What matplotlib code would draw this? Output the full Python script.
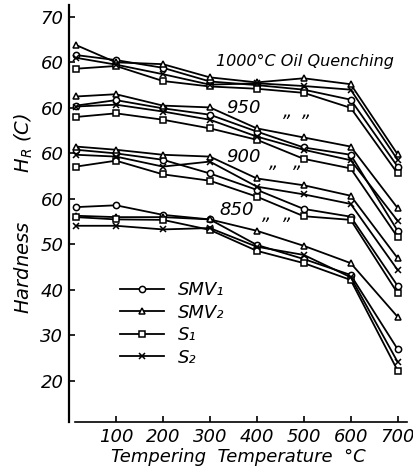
import matplotlib
matplotlib.use("Agg")
import matplotlib.pyplot as plt
from matplotlib import font_manager

names = {f.name for f in font_manager.fontManager.ttflist}
FAM = 'Liberation Sans Narrow' if 'Liberation Sans Narrow' in names else 'DejaVu Sans'
plt.rcParams['font.family'] = [FAM, 'DejaVu Sans']
plt.rcParams['font.style'] = 'italic'

# ---- data ----
temps = [15, 100, 200, 300, 400, 500, 600, 700]
series = ['SMV₁', 'SMV₂', 'S₁', 'S₂']
quench = ['1000', '950', '900', '850']
offsets = [30, 20, 10, 0]   # vertical shift of each quenching group (HRC)

h1000_smv1 = [61.6, 60.5, 58.8, 55.8, 55.0, 54.0, 51.8, 37.1]
h1000_smv2 = [63.8, 60.0, 59.6, 56.7, 55.6, 56.5, 55.2, 39.8]
h1000_s1   = [58.6, 59.2, 55.9, 54.7, 54.2, 53.3, 50.0, 35.6]
h1000_s2   = [61.0, 59.5, 57.4, 55.1, 55.4, 54.8, 54.0, 38.6]

h950_smv1 = [60.5, 61.7, 59.9, 58.5, 54.8, 51.3, 49.7, 33.0]
h950_smv2 = [62.5, 63.0, 60.5, 60.1, 55.5, 53.5, 51.5, 38.0]
h950_s1   = [58.0, 58.8, 57.4, 55.5, 53.0, 48.8, 46.7, 31.6]
h950_s2   = [60.3, 60.7, 59.2, 57.4, 53.7, 50.8, 48.5, 35.2]

h900_smv1 = [60.8, 60.0, 58.6, 55.6, 52.0, 47.8, 46.1, 30.9]
h900_smv2 = [61.5, 60.8, 59.7, 59.3, 54.5, 53.0, 50.7, 37.0]
h900_s1   = [57.1, 58.4, 55.4, 54.0, 50.5, 46.2, 45.4, 29.3]
h900_s2   = [59.7, 59.3, 57.1, 58.2, 52.7, 51.0, 48.9, 34.4]

h850_smv1 = [58.2, 58.6, 56.5, 55.5, 49.9, 46.8, 43.3, 27.0]
h850_smv2 = [56.3, 56.0, 56.0, 55.5, 53.0, 49.7, 45.9, 34.1]
h850_s1   = [56.0, 55.5, 55.4, 53.2, 48.6, 45.9, 42.2, 22.3]
h850_s2   = [54.1, 54.1, 53.3, 53.6, 49.5, 47.7, 42.8, 24.2]

groups = [
    [h1000_smv1, h1000_smv2, h1000_s1, h1000_s2],
    [h950_smv1, h950_smv2, h950_s1, h950_s2],
    [h900_smv1, h900_smv2, h900_s1, h900_s2],
    [h850_smv1, h850_smv2, h850_s1, h850_s2],
]

ytick_pos = [20, 30, 40, 50, 60, 70, 80, 90, 100]
ytick_lab = ['20', '30', '40', '50', '60', '60', '60', '60', '70']
xtick_pos = [100, 200, 300, 400, 500, 600, 700]

# ---- styles ----
marker_style = [
    dict(marker='o', ms=4.5),
    dict(marker='^', ms=5),
    dict(marker='s', ms=5),
    dict(marker='x', ms=4.5),
]

fig = plt.figure(figsize=(4.14, 4.75), dpi=100)
ax = fig.add_axes([0.1667, 0.1116, 0.8164, 0.8779])

for gi, grp in enumerate(groups):
    for si, vals in enumerate(grp):
        y = [v + offsets[gi] for v in vals]
        ax.plot(temps, y, color='black', lw=1.3, mfc='white', mec='black',
                mew=1.1, label=series[si] if gi == 0 else None,
                **marker_style[si])

ax.set_xlim(0, 720)
ax.set_ylim(11, 102.6)
ax.set_yticks(ytick_pos)
ax.set_yticklabels(ytick_lab)
ax.set_xticks(xtick_pos)
ax.set_xticklabels([str(t) for t in xtick_pos])
ax.tick_params(direction='in', length=4, width=1.2, labelsize=13, pad=4)
for s in ['top', 'right']:
    ax.spines[s].set_visible(False)
ax.spines['left'].set_linewidth(1.6)
ax.spines['bottom'].set_linewidth(1.2)
ax.spines['bottom'].set_bounds(12, 720)

ax.set_ylabel('Hardness        H$_R$ (C)', fontsize=14, labelpad=4)
ax.set_xlabel('Tempering  Temperature  °C', fontsize=13, labelpad=2)

tk = dict(fontsize=13, ha='left', va='center')
ax.text(314, 90.1, '1000°C Oil Quenching', fontsize=11.5, ha='left', va='center')
ax.text(335, 80.0, '950', **tk)
ax.text(455, 79.0, '„', **tk)
ax.text(496, 79.0, '„', **tk)
ax.text(335, 69.2, '900', **tk)
ax.text(425, 68.0, '„', **tk)
ax.text(478, 68.0, '„', **tk)
ax.text(320, 57.6, '850', **tk)
ax.text(412, 56.4, '„', **tk)
ax.text(455, 56.4, '„', **tk)

leg = ax.legend(loc='upper left', bbox_to_anchor=(0.13, 0.355), frameon=False,
                fontsize=13, handlelength=2.4, handletextpad=0.8,
                labelspacing=0.25, borderaxespad=0)

fig.savefig('out.png', dpi=100)
